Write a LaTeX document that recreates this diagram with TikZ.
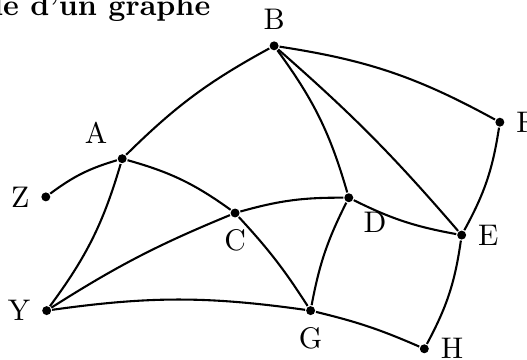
\documentclass[tikz,border=0pt]{standalone}
\usepackage{tikz}

\begin{document}
\begin{tikzpicture}[every node/.style={align=center}, vertex/.style={circle, fill, inner sep=0pt, minimum size=3pt}, line width=0.7pt]
\useasboundingbox (0,0) rectangle (6.21,4.24);

% Title
\node (title) [anchor=base east, inner sep=0pt, font=\bfseries] at (2.49,4.06) {Exemple d'un graphe};

% Nodes
\node (B) [vertex, label=above:B] at (3.23,3.70) {};
\node (F) [vertex, label=right:F] at (5.89,2.80) {};
\node (A) [vertex, label=above left:A] at (1.44,2.37) {};
\node (Z) [vertex, label=left:Z] at (0.54,1.92) {};
\node (C) [vertex, label=below:C] at (2.77,1.73) {};
\node (D) [vertex, label=below right:D] at (4.11,1.91) {};
\node (E) [vertex, label=right:E] at (5.44,1.47) {};
\node (Y) [vertex, label=left:Y] at (0.55,0.58) {};
\node (G) [vertex, label=below:G] at (3.66,0.58) {};
\node (H) [vertex, label=right:H] at (5.00,0.13) {};

% Edges
\draw (Z) to[bend left=10] (A);
\draw (A) to[bend left=8] (B);
\draw (A) to[bend left=10] (C);
\draw (Y) to[bend right=10] (A);
\draw (Y) to[bend left=5] (C);
\draw (Y) to[bend left=8] (G);
\draw (C) to[bend left=8] (D);
\draw (C) to[bend left=5] (G);
\draw (D) to[bend right=8] (G);
\draw (D) to[bend right=8] (E);
\draw (B) to[bend left=10] (D);
\draw (B) to[bend left=4] (E);
\draw (B) to[bend left=10] (F);
\draw (F) to[bend left=10] (E);
\draw (E) to[bend left=10] (H);
\draw (G) to[bend left=5] (H);

\end{tikzpicture}
\end{document}
